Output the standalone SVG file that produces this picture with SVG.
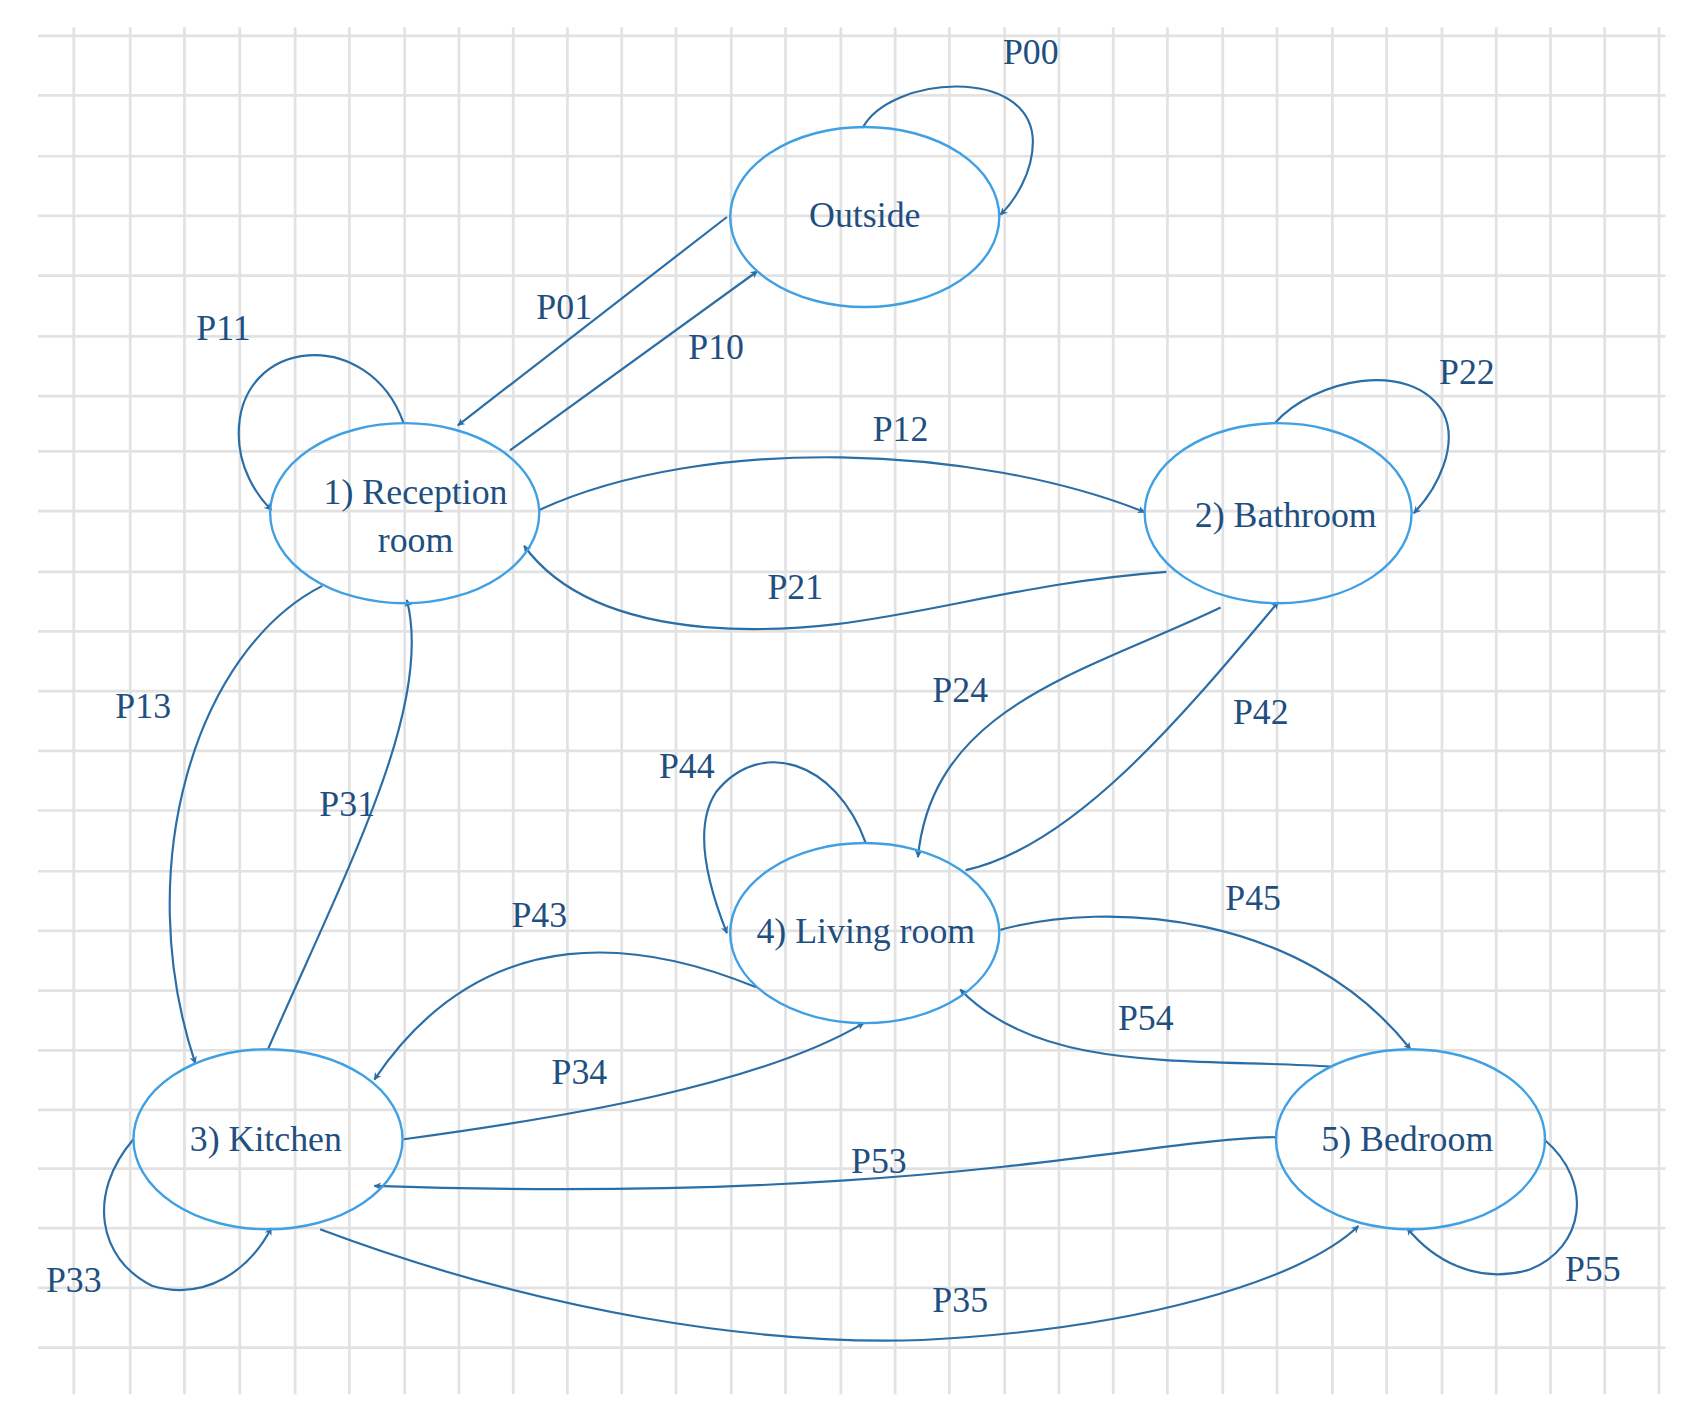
<svg xmlns="http://www.w3.org/2000/svg" width="1693" height="1424" viewBox="0 0 1693 1424">
<defs>
<marker id="ah" viewBox="0 0 10 10" refX="9" refY="5" markerWidth="7" markerHeight="7" orient="auto" markerUnits="userSpaceOnUse"><path d="M0,0 L10,5 L0,10 L3,5 z" fill="#2b6ea6"/></marker>
<style>
.g{stroke:#e2e2e2;stroke-width:2.5}
.n{fill:#fff;stroke:#3fa0e4;stroke-width:2.2}
.e{fill:none;stroke:#2b6ea6;stroke-width:2;marker-end:url(#ah)}
text{font-family:"Liberation Serif",serif;fill:#1f4f80;text-anchor:middle;dominant-baseline:central;font-size:33px}
</style>
</defs>
<rect width="1693" height="1424" fill="#fff"/>
<g transform="scale(1.085)">
<g id="grid">
<path class="g" d="M68,25V1285M120,25V1285M170,25V1285M221,25V1285M272,25V1285M322,25V1285M373,25V1285M423,25V1285M473,25V1285M523,25V1285M573,25V1285M623,25V1285M674,25V1285M724,25V1285M775,25V1285M825,25V1285M875,25V1285M926,25V1285M976,25V1285M1026,25V1285M1076,25V1285M1127,25V1285M1177,25V1285M1228,25V1285M1278,25V1285M1329,25V1285M1379,25V1285M1429,25V1285M1479,25V1285M1529,25V1285"/>
<path class="g" d="M35,33H1535M35,88H1535M35,144H1535M35,199H1535M35,254H1535M35,310H1535M35,365H1535M35,416H1535M35,471H1535M35,527H1535M35,582H1535M35,637H1535M35,692H1535M35,747H1535M35,803H1535M35,858H1535M35,913H1535M35,968H1535M35,1023H1535M35,1077H1535M35,1132H1535M35,1187H1535M35,1242H1535"/>
</g>
<g id="connectors">
<path class="e" d="M795,118 C820,70 950,60 952,130 C952,160 935,185 922,198"/>
<path class="e" d="M670,200 L422,392"/>
<path class="e" d="M470,415 L698,250"/>
<path class="e" d="M372,390 C340,300 220,310 220,400 C220,430 235,455 250,470"/>
<path class="e" d="M497,470 C650,400 900,410 1055,472"/>
<path class="e" d="M1075,527 C900,540 800,590 650,578 C560,570 510,540 483,503"/>
<path class="e" d="M1175,390 C1210,350 1300,330 1330,380 C1345,410 1325,450 1303,473"/>
<path class="e" d="M1125,560 C1000,620 860,650 846,790"/>
<path class="e" d="M890,802 C990,780 1090,660 1178,555"/>
<path class="e" d="M798,777 C770,700 700,680 660,730 C640,760 650,810 670,860"/>
<path class="e" d="M297,540 C180,600 120,800 180,980"/>
<path class="e" d="M247,967 C320,800 400,650 375,553"/>
<path class="e" d="M697,910 C600,870 450,840 345,995"/>
<path class="e" d="M372,1050 C520,1030 700,1000 796,943"/>
<path class="e" d="M922,857 C1020,830 1200,840 1300,967"/>
<path class="e" d="M1227,983 C1100,975 960,990 885,912"/>
<path class="e" d="M1177,1048 C1050,1050 850,1110 345,1093"/>
<path class="e" d="M295,1133 C500,1210 700,1240 850,1235 C1050,1225 1200,1180 1252,1130"/>
<path class="e" d="M123,1050 C80,1100 90,1160 140,1185 C190,1200 230,1170 250,1132"/>
<path class="e" d="M1423,1050 C1470,1090 1460,1150 1410,1170 C1360,1185 1320,1160 1297,1132"/>
<text x="950" y="48">P00</text><text x="520" y="283">P01</text><text x="660" y="320">P10</text>
<text x="206" y="302">P11</text><text x="830" y="395">P12</text><text x="733" y="541">P21</text>
<text x="1352" y="343">P22</text><text x="885" y="636">P24</text><text x="1162" y="656">P42</text>
<text x="633" y="706">P44</text><text x="132" y="651">P13</text><text x="320" y="741">P31</text>
<text x="497" y="843">P43</text><text x="534" y="988">P34</text><text x="1155" y="828">P45</text>
<text x="1056" y="938">P54</text><text x="810" y="1070">P53</text><text x="885" y="1198">P35</text>
<text x="68" y="1180">P33</text><text x="1468" y="1170">P55</text>
</g>
<g id="outside"><ellipse class="n" cx="797" cy="200" rx="124" ry="83" fill-opacity="0"/><text x="797" y="198">Outside</text></g>
<g id="reception"><ellipse class="n" cx="373" cy="473" rx="124" ry="83" fill-opacity="0"/><text x="383" y="453">1) Reception</text><text x="383" y="498">room</text></g>
<g id="bathroom"><ellipse class="n" cx="1178" cy="473" rx="123" ry="83" fill-opacity="0"/><text x="1185" y="475">2) Bathroom</text></g>
<g id="living"><ellipse class="n" cx="797" cy="860" rx="124" ry="83" fill-opacity="0"/><text x="798" y="858">4) Living room</text></g>
<g id="kitchen"><ellipse class="n" cx="247" cy="1050" rx="124" ry="83" fill-opacity="0"/><text x="245" y="1050">3) Kitchen</text></g>
<g id="bedroom"><ellipse class="n" cx="1300" cy="1050" rx="124" ry="83" fill-opacity="0"/><text x="1297" y="1050">5) Bedroom</text></g>
</g>
</svg>
